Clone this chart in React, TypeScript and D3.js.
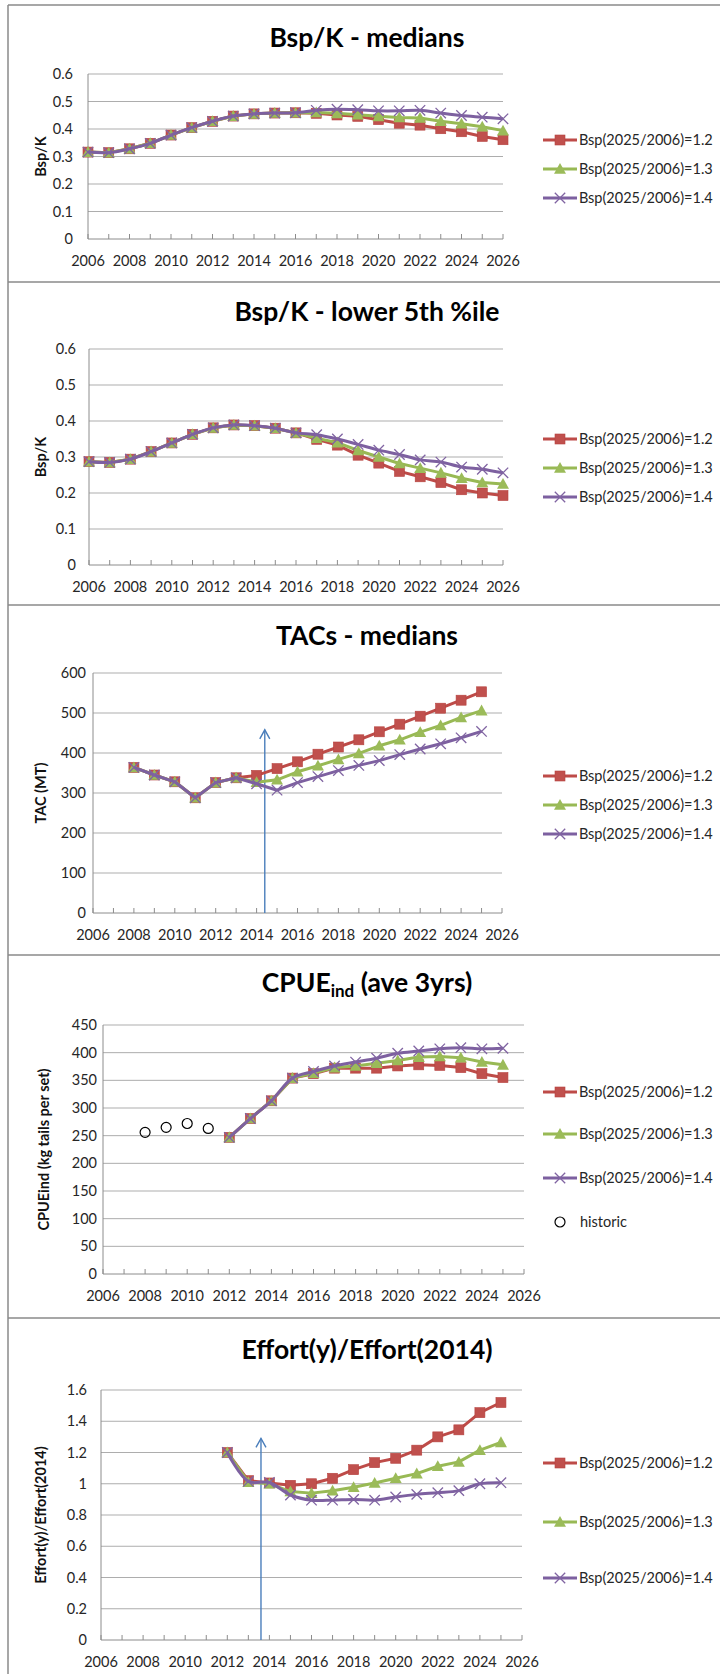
import * as d3 from 'd3';

const years = [2006, 2007, 2008, 2009, 2010, 2011, 2012, 2013, 2014, 2015, 2016, 2017, 2018, 2019, 2020, 2021, 2022, 2023, 2024, 2025, 2026];
const xTickYears = [2006, 2008, 2010, 2012, 2014, 2016, 2018, 2020, 2022, 2024, 2026];
const seriesNames = ['Bsp(2025/2006)=1.2', 'Bsp(2025/2006)=1.3', 'Bsp(2025/2006)=1.4'];

// Bsp/K medians, 2006-2026
const medRed = [0.316, 0.314, 0.328, 0.348, 0.378, 0.405, 0.428, 0.447, 0.455, 0.458, 0.459, 0.457, 0.451, 0.446, 0.434, 0.421, 0.414, 0.401, 0.39, 0.373, 0.361];
const medGreen = [0.316, 0.314, 0.328, 0.348, 0.378, 0.405, 0.428, 0.447, 0.455, 0.458, 0.459, 0.46, 0.457, 0.452, 0.446, 0.442, 0.44, 0.428, 0.419, 0.408, 0.394];
const medPurple = [0.316, 0.314, 0.328, 0.348, 0.378, 0.405, 0.428, 0.447, 0.455, 0.458, 0.459, 0.468, 0.472, 0.47, 0.466, 0.466, 0.468, 0.458, 0.449, 0.443, 0.437];

// Bsp/K lower 5th percentile, 2006-2026
const lowRed = [0.287, 0.285, 0.294, 0.315, 0.339, 0.363, 0.381, 0.389, 0.387, 0.38, 0.367, 0.349, 0.333, 0.305, 0.283, 0.26, 0.245, 0.229, 0.209, 0.2, 0.193];
const lowGreen = [0.287, 0.285, 0.294, 0.315, 0.339, 0.363, 0.381, 0.389, 0.387, 0.38, 0.367, 0.352, 0.34, 0.318, 0.3, 0.282, 0.269, 0.256, 0.241, 0.229, 0.225];
const lowPurple = [0.287, 0.285, 0.294, 0.315, 0.339, 0.363, 0.381, 0.389, 0.387, 0.38, 0.367, 0.362, 0.35, 0.335, 0.319, 0.307, 0.292, 0.286, 0.272, 0.266, 0.256];

// TACs medians, 2008-2025
const tacYears = [2008, 2009, 2010, 2011, 2012, 2013, 2014, 2015, 2016, 2017, 2018, 2019, 2020, 2021, 2022, 2023, 2024, 2025];
const tacRed = [364, 345, 328, 288, 326, 338, 344, 361, 378, 397, 415, 433, 453, 472, 492, 512, 532, 553];
const tacGreen = [364, 345, 328, 288, 326, 338, 327, 333, 353, 368, 384, 399, 418, 433, 452, 469, 489, 506];
const tacPurple = [364, 345, 328, 288, 326, 338, 323, 307, 326, 341, 356, 369, 381, 396, 410, 423, 438, 454];

// CPUE ind (ave 3yrs)
const histYears = [2008, 2009, 2010, 2011];
const histCpue = [256, 265, 272, 263];
const projYears = [2012, 2013, 2014, 2015, 2016, 2017, 2018, 2019, 2020, 2021, 2022, 2023, 2024, 2025];
const cpueRed = [247, 281, 313, 354, 362, 372, 372, 372, 376, 378, 377, 373, 362, 355];
const cpueGreen = [247, 281, 313, 354, 363, 373, 376, 381, 386, 392, 393, 391, 383, 378];
const cpuePurple = [247, 281, 313, 354, 366, 376, 383, 390, 399, 403, 407, 409, 407, 408];

// Effort(y)/Effort(2014)
const effRed = [1.2, 1.02, 1.005, 0.99, 1.0, 1.035, 1.09, 1.135, 1.163, 1.215, 1.3, 1.345, 1.455, 1.52];
const effGreen = [1.2, 1.01, 1.0, 0.95, 0.94, 0.955, 0.978, 1.005, 1.035, 1.065, 1.112, 1.14, 1.215, 1.265];
const effPurple = [1.2, 1.015, 1.008, 0.928, 0.895, 0.895, 0.9, 0.895, 0.915, 0.932, 0.943, 0.956, 1.0, 1.007];

const bspTicks = [0, 0.1, 0.2, 0.3, 0.4, 0.5, 0.6];
const tacTicks = [0, 100, 200, 300, 400, 500, 600];
const cpueTicks = [0, 50, 100, 150, 200, 250, 300, 350, 400, 450];
const effTicks = [0, 0.2, 0.4, 0.6, 0.8, 1, 1.2, 1.4, 1.6];

const font = 'Lato, "Open Sans", sans-serif';
const lineColors = ['#BE4B48', '#98B954', '#7D60A0'];
const markerFill = ['#C0504D', '#9BBB59', '#8064A2'];
const gridColor = '#ADADAD';
const axisColor = '#8C8C8C';
const arrowColor = '#4A7EBB';
const labelColor = '#262626';

type Series = { years: number[]; values: number[] };
type PanelCfg = {
  title: any;
  titleY: number;
  yTitle: string;
  yTitleX: number;
  left: number;
  right: number;
  top: number;
  bottom: number;
  ticks: number[];
  labelGap: number;
  series: Series[];
  smooth: boolean;
  legendY: number[];
  historic?: Series;
  historicLegendY?: number;
  arrow?: { year: number; top: number };
};

const marker = (kind: number, cx: number, cy: number, key: string) => {
  if (kind === 0) {
    return <rect key={key} x={cx - 5} y={cy - 5} width={10} height={10} fill={markerFill[0]} stroke="#B6423F" strokeWidth={0.6} />;
  }
  if (kind === 1) {
    const s = 6;
    return (
      <path
        key={key}
        d={`M${cx},${cy - s}L${cx + s},${cy + s * 0.8}L${cx - s},${cy + s * 0.8}Z`}
        fill={markerFill[1]}
      />
    );
  }
  const h = 5.2;
  return (
    <path
      key={key}
      d={`M${cx - h},${cy - h}L${cx + h},${cy + h}M${cx - h},${cy + h}L${cx + h},${cy - h}`}
      stroke={markerFill[2]}
      strokeWidth={1.3}
      fill="none"
    />
  );
};

function Panel({ cfg }: { cfg: PanelCfg }) {
  const x = d3.scaleLinear().domain([2006, 2026]).range([cfg.left, cfg.right]);
  const yMax = cfg.ticks[cfg.ticks.length - 1];
  const y = d3.scaleLinear().domain([0, yMax]).range([cfg.bottom, cfg.top]);
  const midY = (cfg.top + cfg.bottom) / 2;

  return (
    <g>
      {cfg.ticks.map((t) => (
        <g key={`gy${t}`}>
          {t > 0 && <line x1={cfg.left} x2={cfg.right} y1={y(t)} y2={y(t)} stroke={gridColor} strokeWidth={1} />}
          <text x={cfg.left - cfg.labelGap} y={y(t)} dy="0.35em" textAnchor="end" fontSize={14.5} fill={labelColor}>
            {String(t)}
          </text>
        </g>
      ))}
      <line x1={cfg.left} x2={cfg.left} y1={cfg.top} y2={cfg.bottom} stroke={axisColor} strokeWidth={1} />
      <line x1={cfg.left} x2={cfg.right} y1={cfg.bottom} y2={cfg.bottom} stroke={axisColor} strokeWidth={1} />
      {years.map((yr) => (
        <line key={`tx${yr}`} x1={x(yr)} x2={x(yr)} y1={cfg.bottom} y2={cfg.bottom - 5} stroke={axisColor} strokeWidth={1} />
      ))}
      {xTickYears.map((yr) => (
        <text key={`lx${yr}`} x={x(yr)} y={cfg.bottom + 27} textAnchor="middle" fontSize={14.5} fill={labelColor}>
          {yr}
        </text>
      ))}
      <text
        transform={`translate(${cfg.yTitleX},${midY}) rotate(-90)`}
        textAnchor="middle"
        dominantBaseline="central"
        fontSize={14.5}
        fontWeight={700}
        fill="#111"
      >
        {cfg.yTitle}
      </text>
      <text x={367} y={cfg.titleY} textAnchor="middle" fontSize={26.5} fontWeight={700} fill="#000">
        {cfg.title}
      </text>

      {cfg.arrow && (
        <g stroke={arrowColor} strokeWidth={1.4} fill="none">
          <line x1={x(cfg.arrow.year)} x2={x(cfg.arrow.year)} y1={y(0)} y2={y(cfg.arrow.top)} />
          <path
            d={`M${x(cfg.arrow.year) - 5},${y(cfg.arrow.top) + 9}L${x(cfg.arrow.year)},${y(cfg.arrow.top)}L${x(cfg.arrow.year) + 5},${y(cfg.arrow.top) + 9}`}
          />
        </g>
      )}

      {cfg.series.map((s, i) => {
        const pts = s.years.map((yr, j) => [x(yr), y(s.values[j])] as [number, number]);
        const gen = d3.line().curve(cfg.smooth && i === 2 ? d3.curveCatmullRom : d3.curveLinear);
        return (
          <g key={`s${i}`}>
            <path d={gen(pts) || ''} fill="none" stroke={lineColors[i]} strokeWidth={3} strokeLinejoin="round" />
            {pts.map((p, j) => marker(i, p[0], p[1], `m${i}-${j}`))}
          </g>
        );
      })}

      {cfg.historic &&
        cfg.historic.years.map((yr, j) => (
          <circle key={`h${yr}`} cx={x(yr)} cy={y(cfg.historic!.values[j])} r={5} fill="none" stroke="#000" strokeWidth={1.2} />
        ))}

      {seriesNames.map((name, i) => (
        <g key={`lg${i}`}>
          <line x1={543} x2={577} y1={cfg.legendY[i]} y2={cfg.legendY[i]} stroke={lineColors[i]} strokeWidth={3} />
          {marker(i, 560, cfg.legendY[i], `lm${i}`)}
          <text x={579} y={cfg.legendY[i]} dy="0.35em" fontSize={14.5} fill={labelColor}>
            {name}
          </text>
        </g>
      ))}
      {cfg.historic && cfg.historicLegendY !== undefined && (
        <g>
          <circle cx={560} cy={cfg.historicLegendY} r={5} fill="none" stroke="#000" strokeWidth={1.2} />
          <text x={580} y={cfg.historicLegendY} dy="0.35em" fontSize={14.5} fill={labelColor}>
            historic
          </text>
        </g>
      )}
    </g>
  );
}

const panels: PanelCfg[] = [
  {
    title: 'Bsp/K - medians',
    titleY: 47,
    yTitle: 'Bsp/K',
    yTitleX: 40,
    left: 88,
    right: 503,
    top: 74,
    bottom: 239,
    ticks: bspTicks,
    labelGap: 15,
    series: [
      { years, values: medRed },
      { years, values: medGreen },
      { years, values: medPurple },
    ],
    smooth: true,
    legendY: [140, 169, 198],
  },
  {
    title: 'Bsp/K - lower 5th %ile',
    titleY: 321,
    yTitle: 'Bsp/K',
    yTitleX: 40,
    left: 89,
    right: 503,
    top: 349,
    bottom: 565,
    ticks: bspTicks,
    labelGap: 13,
    series: [
      { years, values: lowRed },
      { years, values: lowGreen },
      { years, values: lowPurple },
    ],
    smooth: true,
    legendY: [439, 468, 497],
  },
  {
    title: 'TACs - medians',
    titleY: 645,
    yTitle: 'TAC (MT)',
    yTitleX: 40,
    left: 93,
    right: 502,
    top: 673,
    bottom: 913,
    ticks: tacTicks,
    labelGap: 7,
    series: [
      { years: tacYears, values: tacRed },
      { years: tacYears, values: tacGreen },
      { years: tacYears, values: tacPurple },
    ],
    smooth: false,
    legendY: [776, 805, 834],
    arrow: { year: 2014.4, top: 458 },
  },
  {
    title: (
      <>
        <tspan>CPUE</tspan>
        <tspan fontSize={17} dy={5}>ind</tspan>
        <tspan dy={-5}> (ave 3yrs)</tspan>
      </>
    ),
    titleY: 992,
    yTitle: 'CPUEind (kg tails per set)',
    yTitleX: 43,
    left: 103,
    right: 524,
    top: 1025,
    bottom: 1274,
    ticks: cpueTicks,
    labelGap: 6,
    series: [
      { years: projYears, values: cpueRed },
      { years: projYears, values: cpueGreen },
      { years: projYears, values: cpuePurple },
    ],
    smooth: true,
    legendY: [1092, 1134, 1178],
    historic: { years: histYears, values: histCpue },
    historicLegendY: 1222,
  },
  {
    title: 'Effort(y)/Effort(2014)',
    titleY: 1359,
    yTitle: 'Effort(y)/Effort(2014)',
    yTitleX: 40,
    left: 101,
    right: 522,
    top: 1390,
    bottom: 1640,
    ticks: effTicks,
    labelGap: 14,
    series: [
      { years: projYears, values: effRed },
      { years: projYears, values: effGreen },
      { years: projYears, values: effPurple },
    ],
    smooth: true,
    legendY: [1463, 1522, 1578],
    arrow: { year: 2013.6, top: 1.29 },
  },
];

const borderYs = [5, 282, 605, 955, 1318];

export default function App() {
  return (
    <div style={{ position: 'absolute', left: 0, top: 0, background: '#fff' }}>
      <svg width={720} height={1674} fontFamily={font} style={{ display: 'block' }}>
        <rect width={720} height={1674} fill="#fff" />
        {borderYs.map((by) => (
          <line key={by} x1={8} x2={720} y1={by} y2={by} stroke="#8A8A8A" strokeWidth={1.5} />
        ))}
        <line x1={8} x2={8} y1={5} y2={1674} stroke="#8A8A8A" strokeWidth={1.5} />
        {panels.map((p, i) => (
          <Panel key={i} cfg={p} />
        ))}
      </svg>
    </div>
  );
}
